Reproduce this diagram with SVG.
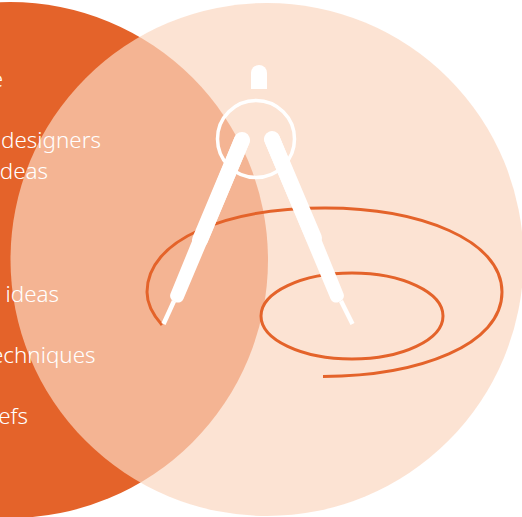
<svg xmlns="http://www.w3.org/2000/svg" width="522" height="517" viewBox="0 0 522 517">
<style>
.t{font-family:"Noto Sans","Open Sans",sans-serif;font-size:22.400px;font-weight:300;fill:#fff}
.o{fill:none;stroke:#e4632a;stroke-width:3}
.leg{stroke:#fff;stroke-width:16;stroke-linecap:round;fill:none}
.foot{fill:#fff;stroke:#fff;stroke-width:12;stroke-linejoin:round}
.pin{stroke:#fff;stroke-width:4.500;fill:none}
</style>
<rect width="522" height="517" fill="#fff"/>
<g id="circle-left"><circle cx="10" cy="260" r="258" fill="#e4632a"/></g>
<g id="circle-right"><circle cx="267" cy="259.500" r="256.500" fill="#fbd7c0" fill-opacity=".7"/></g>
<g id="labels">
<text class="t" x="3" y="87" text-anchor="end">e</text>
<text class="t" x="101" y="148" text-anchor="end">designers</text>
<text class="t" x="48" y="179" text-anchor="end">ideas</text>
<text class="t" x="59" y="302" text-anchor="end">ideas</text>
<text class="t" x="95.500" y="363" text-anchor="end">techniques</text>
<text class="t" x="28" y="424" text-anchor="end">efs</text>
</g>
<g id="connectors">
<path class="o" d="M323 376.500C420 376 502 345 502 292C502 240 420 208 325 208C225 208 147 240 147 292C147 303 153 315 162 325"/>
<ellipse class="o" cx="352" cy="316" rx="91" ry="43"/>
</g>
<g id="compass">
<path d="M251 89V73a8 8 0 0 1 16 0V89Z" fill="#fff"/>
<circle cx="256" cy="139" r="38.500" fill="none" stroke="#fff" stroke-width="3.500"/>
<path class="pin" d="M174 301L163.500 324"/>
<path class="pin" d="M341 301L352.500 324"/>
<path class="leg" d="M242 140L200 240"/>
<path class="foot" d="M243.800 140.800L177.900 296.600L176.100 295.800L240.200 139.200Z"/>
<path class="leg" d="M272 139L314 238"/>
<path class="foot" d="M270.200 139.800L336.100 296.600L337.900 295.800L273.800 138.200Z"/>
</g>
</svg>
